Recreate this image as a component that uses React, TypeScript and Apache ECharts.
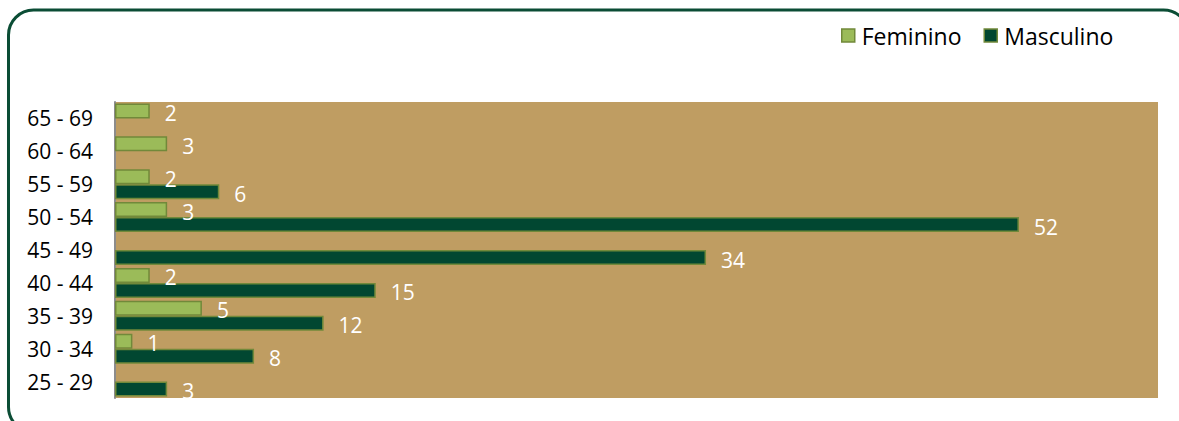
import React, { useEffect, useRef } from "react";
import * as echarts from "echarts";

const categories = ["25 - 29", "30 - 34", "35 - 39", "40 - 44", "45 - 49", "50 - 54", "55 - 59", "60 - 64", "65 - 69"];
const feminino = [null, 1, 5, 2, null, 3, 2, 3, 2];
const masculino = [3, 8, 12, 15, 34, 52, 6, null, null];
const xMax = 60;

const FONT = "Open Sans";

export default function App() {
  const ref = useRef<HTMLDivElement>(null);
  useEffect(() => {
    const chart = echarts.init(ref.current!, null, { renderer: "svg" });
    const label = {
      show: true,
      position: "right",
      distance: 15,
      color: "#ffffff",
      fontFamily: FONT,
      fontSize: 21,
      offset: [0, 2],
    };
    chart.setOption({
      animation: false,
      backgroundColor: "#ffffff",
      graphic: [
        {
          type: "rect",
          z: 100,
          silent: true,
          shape: { x: 8.5, y: 10, width: 1180, height: 422, r: 25 },
          style: { fill: "none", stroke: "#0b4d35", lineWidth: 3 },
        },
      ],
      legend: {
        top: 19,
        left: 836,
        icon: "rect",
        itemWidth: 13,
        itemHeight: 13,
        itemGap: 22,
        textStyle: { fontFamily: FONT, fontSize: 23, color: "#000000", padding: [0, 0, 0, 2] },
        data: [
          { name: "Feminino", itemStyle: { borderColor: "#71893a", borderWidth: 1.5 } },
          { name: "Masculino", itemStyle: { borderColor: "#71893a", borderWidth: 1.5 } },
        ],
      },
      grid: {
        left: 115,
        right: 21,
        top: 102,
        bottom: 23,
        show: true,
        backgroundColor: "#bf9d62",
        borderWidth: 0,
      },
      xAxis: {
        type: "value",
        min: 0,
        max: xMax,
        show: false,
        splitLine: { show: false },
      },
      yAxis: {
        type: "category",
        data: categories,
        axisLine: { show: true, lineStyle: { color: "#8c8c8c", width: 2 } },
        axisTick: { show: false },
        axisLabel: { fontFamily: FONT, fontSize: 21, color: "#000000", margin: 22 },
      },
      series: [
        {
          name: "Feminino",
          type: "bar",
          data: feminino,
          barWidth: 15,
          barGap: "0%",
          itemStyle: { color: "#9bbb59", borderColor: "#71893a", borderWidth: 1.5 },
          label,
        },
        {
          name: "Masculino",
          type: "bar",
          data: masculino,
          barWidth: 15,
          barGap: "0%",
          itemStyle: { color: "#014731", borderColor: "#71893a", borderWidth: 1.5 },
          label,
        },
      ],
    });
    return () => chart.dispose();
  }, []);
  return (
    <div
      ref={ref}
      style={{ position: "fixed", left: 0, top: 0, width: 1179, height: 421 }}
    />
  );
}
